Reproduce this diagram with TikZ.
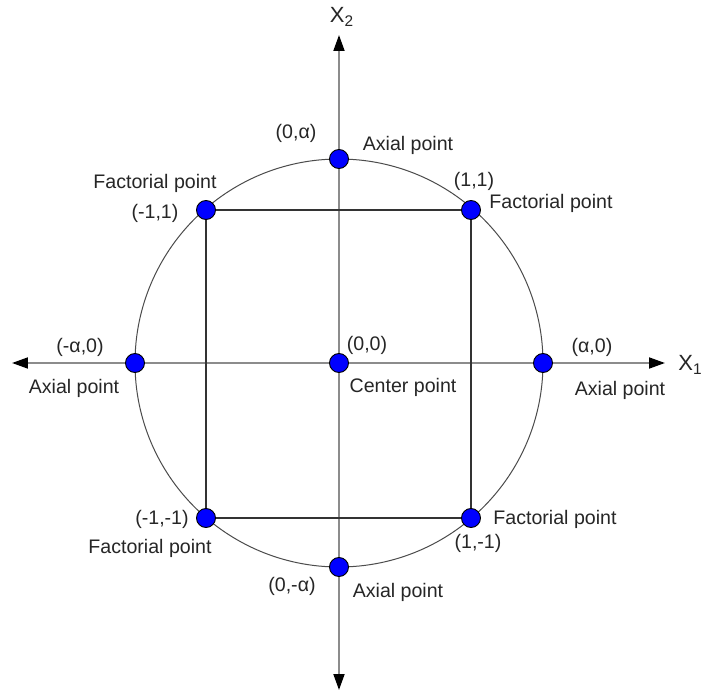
\documentclass[tikz,border=0pt]{standalone}
\usepackage{fontspec}
\setmainfont{Liberation Sans}
\usetikzlibrary{calc,positioning,backgrounds,arrows.meta}
\tikzset{
  dot/.style={
    circle,
    draw=black,
    line width=0.45pt,
    fill=blue,
    minimum size=9.5pt,
    inner sep=0pt
  },
  lbl/.style={font=\fontsize{9.8}{11}\selectfont, inner sep=0pt, text=black!85},
  axname/.style={font=\fontsize{11}{12}\selectfont, inner sep=0pt, text=black!85},
  axis/.style={draw=gray!90, line width=0.9pt,
    {Triangle[length=8pt,width=5.5pt,black]}-{Triangle[length=8pt,width=5.5pt,black]}},
  frame/.style={draw=black!80, line width=0.55pt},
  ring/.style={draw=black!70, line width=0.5pt},
}

\begin{document}
\begin{tikzpicture}[x=0.5pt, y=0.5pt]
  \useasboundingbox (-339,-328) rectangle (363,363);
  % design points
  \node[dot] (C0) at (0,0) {};
  \node[dot] (At) at (0,204) {};
  \node[dot] (Ab) at (0,-204) {};
  \node[dot] (Al) at (-204,0) {};
  \node[dot] (Ar) at (204,0) {};
  \node[dot] (F1) at (-133,153) {};
  \node[dot] (F2) at (132,153) {};
  \node[dot] (F3) at (-133,-155) {};
  \node[dot] (F4) at (132,-155) {};
  % axis ends
  \coordinate (xl) at (-327,0);
  \coordinate (xr) at (326,0);
  \coordinate (yt) at (0,328);
  \coordinate (yb) at (0,-327);
  \scoped[on background layer]{
    \fill[white] (-339,-328) rectangle (363,363);
    \draw[ring] (C0.center) circle (204);
    \draw[axis] (xl) -- (xr);
    \draw[axis] (yb) -- (yt);
    \draw[frame] (F1.center) -- (F2.center) -- (F4.center) -- (F3.center) -- cycle;
  }
  % axis names
  \node[axname] (X2) at ($(C0)+(3,346)$) {X\textsubscript{2}};
  \node[axname, anchor=west] (X1) at ($(C0)+(339,-2)$) {X\textsubscript{1}};
  % labels of the points
  \node[lbl] (Atc) at ($(At)+(-43,26)$) {(0,α)};
  \node[lbl] (Atn) at ($(At)+(69,14)$) {Axial point};
  \node[lbl] (Abc) at ($(Ab)+(-47,-19)$) {(0,-α)};
  \node[lbl] (Abn) at ($(Ab)+(59,-25)$) {Axial point};
  \node[lbl] (Alc) at ($(Al)+(-55,16)$) {(-α,0)};
  \node[lbl] (Aln) at ($(Al)+(-61,-25)$) {Axial point};
  \node[lbl] (Arc) at ($(Ar)+(49,16)$) {(α,0)};
  \node[lbl] (Arn) at ($(Ar)+(77,-27)$) {Axial point};
  \node[lbl] (C0c) at ($(C0)+(28,18)$) {(0,0)};
  \node[lbl] (C0n) at ($(C0)+(64,-24)$) {Center point};
  \node[lbl] (F1c) at ($(F1)+(-51,-3)$) {(-1,1)};
  \node[lbl] (F1n) at ($(F1)+(-51,27)$) {Factorial point};
  \node[lbl] (F2c) at ($(F2)+(3,29)$) {(1,1)};
  \node[lbl] (F2n) at ($(F2)+(80,7)$) {Factorial point};
  \node[lbl] (F3c) at ($(F3)+(-44,-1)$) {(-1,-1)};
  \node[lbl] (F3n) at ($(F3)+(-56,-30)$) {Factorial point};
  \node[lbl] (F4c) at ($(F4)+(7,-25)$) {(1,-1)};
  \node[lbl] (F4n) at ($(F4)+(84,-1)$) {Factorial point};
\end{tikzpicture}
\end{document}
